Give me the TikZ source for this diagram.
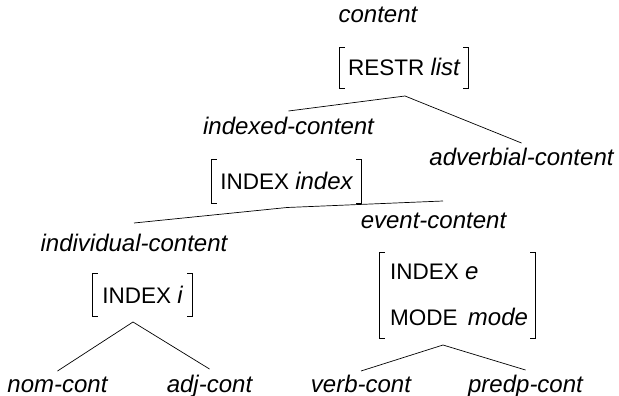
\documentclass[tikz,border=0pt]{standalone}
\usepackage{fontspec}
\setmainfont{Liberation Sans}
\newcommand{\lbsize}{\fontsize{24}{28}\selectfont}
\newcommand{\ftsize}{\fontsize{22.5}{27}\selectfont}
\newcommand{\val}[1]{{\lbsize\itshape #1}}
\tikzset{
  lab/.style={anchor=base, inner sep=0pt, font=\lbsize\itshape},
  avm/.style={inner sep=0pt, text height=16pt, text depth=0pt, font=\ftsize},
  row/.style={anchor=base west, inner sep=0pt, font=\ftsize},
  brk/.style={line width=0.8pt},
  edge/.style={line width=0.7pt}
}
\begin{document}
\begin{tikzpicture}[x=1pt,y=-1pt]
\useasboundingbox (0,0) rectangle (619,396);
% labels
\node[lab] (content) at (378,23) {content};
\node[lab] (indexed) at (288.5,135) {indexed-content};
\node[lab] (adverbial) at (521.5,165) {adverbial-content};
\node[lab] (event) at (433.5,228) {event-content};
\node[lab] (individual) at (134,251) {individual-content};
\node[lab] (nom) at (57.5,392) {nom-cont};
\node[lab] (adj) at (209.5,392) {adj-cont};
\node[lab] (verb) at (361,392) {verb-cont};
\node[lab] (predp) at (525.5,392) {predp-cont};
% feature boxes
\node[avm, minimum width=128pt, minimum height=40pt] (restr) at (404,68) {RESTR \val{list}};
\node[avm, minimum width=149pt, minimum height=43pt] (idx) at (286.5,181.5) {INDEX \val{index}};
\node[avm, minimum width=99pt, minimum height=42pt] (idxi) at (142.5,295) {INDEX \val{i}};
\node[inner sep=0pt, minimum width=155pt, minimum height=85pt] (evbox) at (457.5,295.5) {};
\node[row] (evidx) at (390,279) {INDEX \val{e}};
\node[row] (evmode) at (390,325) {MODE\hspace{4pt} \val{mode}};
% brackets
\foreach \b in {restr,idx,idxi,evbox}{
  \draw[brk] ([xshift=5pt]\b.north west) -- (\b.north west) -- (\b.south west) -- ([xshift=5pt]\b.south west);
  \draw[brk] ([xshift=-5pt]\b.north east) -- (\b.north east) -- (\b.south east) -- ([xshift=-5pt]\b.south east);
}
% tree apexes
\coordinate (a0) at (405,96);
\coordinate (a1) at (287,207.5);
\coordinate (a2) at (133,322);
\coordinate (a3) at (443,345);
% edges
\draw[edge] ([yshift=24pt]indexed.base) -- (a0) -- ([yshift=22pt]adverbial.base);
\draw[edge] ([yshift=28pt]individual.base) -- (a1) -- ([xshift=9.5pt,yshift=27pt]event.base);
\draw[edge] ([yshift=21pt]nom.base) -- (a2) -- ([yshift=23pt]adj.base);
\draw[edge] ([yshift=21pt]verb.base) -- (a3) -- ([yshift=22pt]predp.base);
\end{tikzpicture}
\end{document}
